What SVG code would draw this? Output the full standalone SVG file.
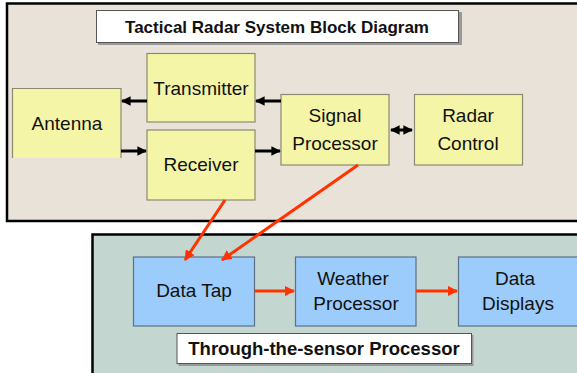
<svg xmlns="http://www.w3.org/2000/svg" width="577" height="373" viewBox="0 0 577 373">
<defs>
<style>
.panel{stroke:#000;stroke-width:2.5}
.ybox{fill:#f5f5a8;stroke:#8a8a70;stroke-width:1.2}
.bbox{fill:#9cccfb;stroke:#5c7088;stroke-width:1.2}
.lbl{fill:#fff;stroke:#555;stroke-width:1}
.shadow{fill:#999}
.t{font-family:"Liberation Sans",Arial,sans-serif;font-size:19px;fill:#111;text-anchor:middle}
.tb{font-family:"Liberation Sans",Arial,sans-serif;font-size:17px;font-weight:bold;fill:#111;text-anchor:middle}
.blk{stroke:#000;stroke-width:3;fill:none}
.red{stroke:#ff3300;stroke-width:3;fill:none}
</style>
<marker id="ah" viewBox="0 0 10 10" refX="9" refY="5" markerWidth="3.2" markerHeight="3.2" orient="auto-start-reverse" markerUnits="strokeWidth">
<path d="M0,0 L10,5 L0,10 z" fill="#000"/>
</marker>
<marker id="ar" viewBox="0 0 10 10" refX="9" refY="5" markerWidth="3.5" markerHeight="3.5" orient="auto" markerUnits="strokeWidth">
<path d="M0,0 L10,5 L0,10 z" fill="#ff3300"/>
</marker>
</defs>
<rect width="577" height="373" fill="#fff"/>
<g id="top-panel">
<rect class="panel" x="7" y="3.5" width="575" height="217.5" fill="#e8e2d8"/>
</g>
<g id="bottom-panel">
<rect class="panel" x="92.5" y="234.5" width="490" height="145" fill="#c4d6d0"/>
</g>
<g id="title">
<rect class="shadow" x="98" y="12" width="364" height="33"/>
<rect class="lbl" x="96.5" y="10.5" width="362" height="32"/>
<text class="tb" x="277" y="33">Tactical Radar System Block Diagram</text>
</g>
<g id="antenna">
<rect x="12" y="88" width="109" height="70" fill="#f5f5a8"/>
<path d="M12.5,158 V88.5 H121 V158" fill="none" stroke="#8a8a70" stroke-width="1.2"/>
<text class="t" x="67" y="130">Antenna</text>
</g>
<g id="transmitter">
<rect class="ybox" x="147" y="53.5" width="108" height="68.5"/>
<text class="t" x="201" y="95">Transmitter</text>
</g>
<g id="receiver">
<rect class="ybox" x="147" y="130" width="108" height="70"/>
<text class="t" x="201" y="171">Receiver</text>
</g>
<g id="signal-processor">
<rect class="ybox" x="281" y="94.5" width="108" height="70.5"/>
<text class="t" x="335" y="122">Signal</text>
<text class="t" x="335" y="150">Processor</text>
</g>
<g id="radar-control">
<rect class="ybox" x="414.5" y="94.5" width="108" height="70.5"/>
<text class="t" x="468" y="122">Radar</text>
<text class="t" x="468" y="150">Control</text>
</g>
<g id="data-tap">
<rect class="bbox" x="133.5" y="257" width="121" height="69"/>
<text class="t" x="194" y="297">Data Tap</text>
</g>
<g id="weather-processor">
<rect class="bbox" x="295.5" y="257" width="120.5" height="69"/>
<text class="t" x="353" y="285">Weather</text>
<text class="t" x="356" y="310">Processor</text>
</g>
<g id="data-displays">
<rect class="bbox" x="458.5" y="257" width="120" height="69"/>
<text class="t" x="515" y="285">Data</text>
<text class="t" x="518" y="310">Displays</text>
</g>
<g id="footer-label">
<rect class="shadow" x="178.5" y="335" width="295" height="31"/>
<rect class="lbl" x="177" y="333.5" width="294.5" height="30"/>
<text class="tb" x="324" y="355" style="font-size:18.5px">Through-the-sensor Processor</text>
</g>
<g id="connectors">
<line class="blk" x1="147" y1="101" x2="122" y2="101" marker-end="url(#ah)"/>
<line class="blk" x1="121" y1="151" x2="146" y2="151" marker-end="url(#ah)"/>
<line class="blk" x1="255" y1="151" x2="280" y2="151" marker-end="url(#ah)"/>
<line class="blk" x1="281" y1="101" x2="256" y2="101" marker-end="url(#ah)"/>
<line class="blk" x1="391" y1="130" x2="412" y2="130" stroke-width="2.5" marker-start="url(#ah)" marker-end="url(#ah)"/>
<line class="red" x1="225" y1="200" x2="185" y2="260" marker-end="url(#ar)"/>
<line class="red" x1="358" y1="165" x2="222" y2="260" marker-end="url(#ar)"/>
<line class="red" x1="254.5" y1="291" x2="294" y2="291" marker-end="url(#ar)"/>
<line class="red" x1="416" y1="291" x2="457" y2="291" marker-end="url(#ar)"/>
</g>
</svg>
